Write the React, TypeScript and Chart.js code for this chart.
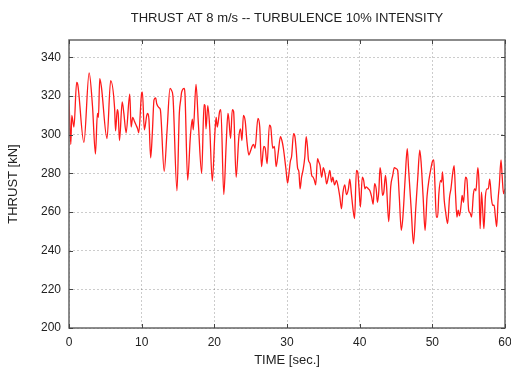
import React, { useEffect, useRef } from 'react';
import { Chart, registerables } from 'chart.js';

Chart.register(...registerables);

const TITLE = 'THRUST AT 8 m/s -- TURBULENCE 10% INTENSITY';
const X_TITLE = 'TIME [sec.]';
const Y_TITLE = 'THRUST [kN]';

const X_TICKS = [0, 10, 20, 30, 40, 50, 60];
const Y_TICKS = [200, 220, 240, 260, 280, 300, 320, 340];

const TIME = [
  0.0, 0.25, 0.38, 0.68, 1.05, 1.2, 2.05, 2.77, 3.23, 3.64, 3.91, 4.05, 4.23, 4.45, 5.23, 5.73, 6.27, 6.41, 6.64, 6.77,
  6.95, 7.32, 7.55, 7.86, 8.36, 8.55, 8.77, 9.0, 9.23, 9.45, 9.6,
  10.0, 10.1, 10.37, 10.7, 10.83, 11.0, 11.24, 11.47, 11.7, 11.93, 12.07, 12.4, 12.57, 13.1, 13.5, 13.9, 14.1, 14.3, 14.86,
  15.18, 15.37, 15.5, 15.87, 15.96, 16.33, 16.7, 16.97, 17.1, 17.48, 17.8, 18.26, 18.58, 18.72, 18.85, 19.1, 19.36, 19.72,
  20.1, 20.25, 20.4, 20.73, 20.9, 21.3, 21.64, 21.87, 22.0, 22.24, 22.47, 22.65, 23.0, 23.38, 23.6, 23.8, 24.0, 24.25,
  24.5, 24.75, 24.93, 25.2, 25.4, 25.6, 26.0, 26.25, 26.5, 26.8, 27.0, 27.26, 27.58, 27.76, 28.04, 28.27, 28.5, 28.8,
  29.1, 29.3, 29.5, 29.86, 30.08, 30.27, 30.45, 30.64, 30.9, 31.09, 31.27, 31.45, 31.64, 31.8, 32.0, 32.2, 32.45, 32.64,
  32.82, 32.95, 33.18, 33.4, 33.6, 33.77, 33.95, 34.2, 34.36, 34.55, 34.77, 35.0, 35.27, 35.45, 35.68, 35.9, 36.13, 36.3,
  36.55, 36.8, 37.04, 37.27, 37.5, 37.7, 37.95, 38.18, 38.45, 38.64, 38.86, 39.1, 39.3, 39.55, 39.73, 39.9, 40.1,
  40.36, 40.55, 40.73, 40.9, 41.2, 41.41, 41.64, 41.86, 42.05, 42.27, 42.45, 42.64, 42.8, 42.95, 43.14, 43.32, 43.55,
  43.68, 44.0, 44.27, 44.55, 44.77, 45.05, 45.23, 45.45, 45.73, 45.95, 46.27, 46.55, 46.73, 47.1, 47.4, 47.73, 48.0,
  48.27, 48.45, 48.73, 49.0, 49.27, 49.55,
  49.8, 50.0, 50.2, 50.37, 50.55, 50.73, 50.9, 51.14, 51.27, 51.4, 51.64, 51.83, 52.1, 52.37, 52.56, 52.8, 53.0, 53.2,
  53.38, 53.56, 53.74, 53.97, 54.1, 54.3, 54.56, 54.75, 55.0, 55.2, 55.4, 55.66, 55.84, 56.0, 56.26, 56.4, 56.58, 56.76,
  56.95, 57.1, 57.3, 57.53, 57.7, 57.9, 58.13, 58.3, 58.5, 58.68, 58.86, 59.04, 59.22, 59.45, 59.6, 59.8, 60.0,
];

const THRUST = [
  318, 295, 310, 304, 327, 326, 296, 332, 315, 290, 311, 309, 329, 325, 298, 328, 314, 302, 313, 311,
  297, 317, 311, 301, 321, 304, 309, 307, 305, 303, 301,
  321.5, 322, 302.5, 310, 311, 308, 288, 301, 318, 319, 316, 314, 313, 281, 302.5, 324, 323, 320, 271,
  311, 318, 322, 324, 321, 276.5, 299, 308, 302.5, 326, 306, 280, 315.5, 315, 303, 315, 304, 276,
  302.5, 309, 304, 312, 313, 269, 296, 311, 308, 298, 313, 312, 278, 299, 303, 297, 310, 307,
  296, 289.5, 291, 294, 295, 293, 308.5, 304, 283.5, 294, 293, 285, 305, 304, 293, 294, 283.5, 291,
  299, 297, 293, 282, 275, 280, 286, 289, 300.5, 299, 292, 283, 280.7, 272, 278, 281.5, 288.5, 299,
  293.6, 287, 285, 279, 278, 276.4, 274, 287.6, 286, 284, 278, 283, 279, 274.6, 278, 281.5, 275.5, 278,
  274, 276.4, 273, 267.8, 261.7, 270, 274, 269, 272, 277, 269.5, 261, 256.6, 281.5, 280.7, 273, 262.6,
  278, 276.4, 272, 273, 272, 271, 268, 264, 274.7, 272, 265, 271, 283, 279.5, 268.6, 270.3, 279,
  274.7, 255, 273, 279, 283, 282.4, 281.5, 268, 250.5, 257.4, 278, 292.8, 282.4, 261, 243.6, 262.6, 278,
  292, 286, 268, 250.5, 268, 277,
  282.4, 286, 287, 273, 257.4, 257.4, 269.5, 276.4, 275.5, 280.7, 266, 260, 254, 267.8, 272, 280, 284, 268.6,
  257.4, 261, 258, 264, 268.6, 265, 278, 277, 261, 259.5, 257.4, 269.5, 272, 271, 283, 277, 251.4, 270.3,
  259.5, 251.4, 267.8, 272, 272, 277, 267, 263.5, 263.5, 257.5, 252.4, 266, 274, 287, 279, 269.5, 272,
];

const FONT = "'Liberation Sans', Arial, Helvetica, sans-serif";
const TEXT_COLOR = '#222';

export default function App() {
  const ref = useRef<HTMLCanvasElement>(null);

  useEffect(() => {
    document.body.style.margin = '0';
    const canvas = ref.current;
    if (!canvas) return;

    const framePlugin = {
      id: 'frame',
      afterDraw(chart: any) {
        const { ctx, chartArea } = chart;
        const { left, right, top, bottom } = chartArea;
        const xs = chart.scales.x;
        const ys = chart.scales.y;
        ctx.save();
        ctx.strokeStyle = '#666';
        ctx.lineWidth = 1.5;
        ctx.strokeRect(left, top, right - left, bottom - top);
        ctx.lineWidth = 1;
        ctx.strokeStyle = '#444';
        const tl = 4;
        ctx.beginPath();
        X_TICKS.forEach((v) => {
          const px = Math.round(xs.getPixelForValue(v)) + 0.5;
          ctx.moveTo(px, bottom);
          ctx.lineTo(px, bottom - tl);
          ctx.moveTo(px, top);
          ctx.lineTo(px, top + tl);
        });
        Y_TICKS.forEach((v) => {
          const py = Math.round(ys.getPixelForValue(v)) + 0.5;
          ctx.moveTo(left, py);
          ctx.lineTo(left + tl, py);
          ctx.moveTo(right, py);
          ctx.lineTo(right - tl, py);
        });
        ctx.stroke();
        ctx.fillStyle = TEXT_COLOR;
        ctx.font = `13px ${FONT}`;
        ctx.textAlign = 'center';
        ctx.textBaseline = 'middle';
        ctx.fillText(TITLE, (left + right) / 2, 18);
        ctx.restore();
      },
    };

    const chart = new Chart(canvas, {
      type: 'line',
      data: {
        datasets: [
          {
            data: TIME.map((t, i) => ({ x: t, y: THRUST[i] })),
            borderColor: '#ff1a1a',
            borderWidth: 1.3,
            pointRadius: 0,
            cubicInterpolationMode: 'monotone',
            fill: false,
          },
        ],
      },
      options: {
        animation: false,
        responsive: false,
        layout: { padding: { left: 6, right: 6, top: 40, bottom: 3 } },
        plugins: { legend: { display: false }, tooltip: { enabled: false } },
        scales: {
          x: {
            type: 'linear',
            min: 0,
            max: 60,
            afterBuildTicks: (s: any) => {
              s.ticks = X_TICKS.map((v) => ({ value: v }));
            },
            afterFit: (s: any) => {
              s.height = 40;
              s.paddingLeft = 0;
              s.paddingRight = 0;
            },
            grid: { color: 'rgba(0,0,0,0.2)', lineWidth: 1, drawTicks: false },
            border: { display: false, dash: [2, 2] },
            ticks: { padding: 7, autoSkip: false, maxRotation: 0, color: TEXT_COLOR, font: { family: FONT, size: 12 } },
            title: { display: true, text: X_TITLE, color: TEXT_COLOR, font: { family: FONT, size: 13 }, padding: 0 },
          },
          y: {
            type: 'linear',
            min: 200,
            max: 349,
            afterBuildTicks: (s: any) => {
              s.ticks = Y_TICKS.map((v) => ({ value: v }));
            },
            afterFit: (s: any) => {
              s.width = 63;
              s.paddingTop = 0;
              s.paddingBottom = 0;
            },
            grid: { color: 'rgba(0,0,0,0.2)', lineWidth: 1, drawTicks: false },
            border: { display: false, dash: [2, 2] },
            ticks: { padding: 8, color: TEXT_COLOR, font: { family: FONT, size: 12 } },
            title: { display: true, text: Y_TITLE, color: TEXT_COLOR, font: { family: FONT, size: 13 }, padding: 0 },
          },
        },
      },
      plugins: [framePlugin],
    });

    return () => chart.destroy();
  }, []);

  return (
    <div style={{ width: 511, height: 371 }}>
      <canvas ref={ref} width={511} height={371} style={{ display: 'block' }} />
    </div>
  );
}
